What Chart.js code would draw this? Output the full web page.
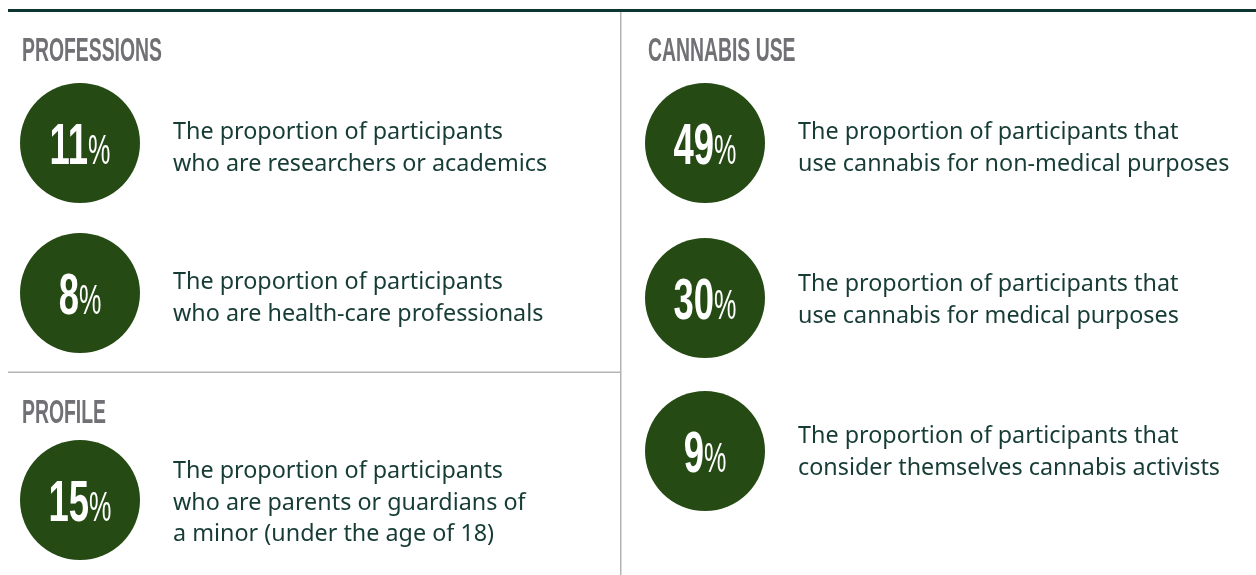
<!DOCTYPE html>
<html><head><meta charset="utf-8">
<script src="https://cdn.jsdelivr.net/npm/chart.js@4/dist/chart.umd.min.js"></script>
<style>html,body{margin:0;padding:0;background:#fff;overflow:hidden}canvas{display:block}</style>
</head><body>
<canvas id="c" width="1256" height="575"></canvas>
<script>
// ---- data ----
const sections = ["PROFESSIONS", "PROFILE", "CANNABIS USE"];
const values = [11, 8, 15, 49, 30, 9];
const descriptions = [
  ["The proportion of participants", "who are researchers or academics"],
  ["The proportion of participants", "who are health-care professionals"],
  ["The proportion of participants", "who are parents or guardians of", "a minor (under the age of 18)"],
  ["The proportion of participants that", "use cannabis for non-medical purposes"],
  ["The proportion of participants that", "use cannabis for medical purposes"],
  ["The proportion of participants that", "consider themselves cannabis activists"]
];

// ---- layout (positions/styles, not data) ----
const COL_X = [80, 705];
const TEXT_X = [173, 798];
const itemCol = [0, 0, 0, 1, 1, 1];
const ITEM_Y = [143, 293, 500, 143, 298, 451];
const TEXT_DY = [-4, -4, -22, -4, -7, -8];
const LINE_H = 31.5;
const HEAD_POS = [{x: 22, y: 61}, {x: 22, y: 423}, {x: 648, y: 61}];
const GREEN = '#254a14';
const TEXT_C = '#163c35';
const HEAD_C = '#707075';

const points = values.map((v, i) => ({x: COL_X[itemCol[i]], y: ITEM_Y[i], v: v, i: i}));

const infoPlugin = {
  id: 'info',
  beforeDatasetsDraw(chart) {
    const ctx = chart.ctx, xs = chart.scales.x, ys = chart.scales.y;
    ctx.save();
    // top rule
    ctx.fillStyle = '#0e3530';
    ctx.fillRect(xs.getPixelForValue(8), ys.getPixelForValue(9), xs.getPixelForValue(1256) - xs.getPixelForValue(8), 3);
    // dividers
    ctx.fillStyle = '#b4b4b4';
    ctx.fillRect(xs.getPixelForValue(620), ys.getPixelForValue(12), 1.5, ys.getPixelForValue(575) - ys.getPixelForValue(12));
    ctx.fillRect(xs.getPixelForValue(8), ys.getPixelForValue(371.5), xs.getPixelForValue(620) - xs.getPixelForValue(8), 1.5);
    // headings
    ctx.fillStyle = HEAD_C;
    ctx.textBaseline = 'alphabetic';
    ctx.textAlign = 'left';
    ctx.font = 'bold 34px "Liberation Sans", Arial, sans-serif';
    const hs = 0.57;
    sections.forEach((s, k) => {
      ctx.save();
      ctx.translate(xs.getPixelForValue(HEAD_POS[k].x), ys.getPixelForValue(HEAD_POS[k].y));
      ctx.scale(hs, 1);
      ctx.fillText(s, 0, 0);
      ctx.restore();
    });
    ctx.restore();
  },
  afterDatasetsDraw(chart) {
    const ctx = chart.ctx, xs = chart.scales.x, ys = chart.scales.y;
    ctx.save();
    ctx.textBaseline = 'alphabetic';
    ctx.textAlign = 'left';
    // numbers in circles
    const ns = 0.64, ps = 0.6;
    points.forEach(p => {
      const cx = xs.getPixelForValue(p.x), cy = ys.getPixelForValue(p.y);
      const num = String(p.v);
      ctx.font = 'bold 57px "Liberation Sans", Arial, sans-serif';
      const wn = ctx.measureText(num).width * ns;
      ctx.font = '42px "Liberation Sans", Arial, sans-serif';
      const wp = ctx.measureText('%').width * ps;
      const gap = 0;
      const x0 = cx - (wn + gap + wp) / 2;
      const base = cy + 21;
      ctx.fillStyle = '#ffffff';
      ctx.save();
      ctx.translate(x0, base); ctx.scale(ns, 1);
      ctx.font = 'bold 57px "Liberation Sans", Arial, sans-serif';
      ctx.fillText(num, 0, 0);
      ctx.restore();
      ctx.save();
      ctx.translate(x0 + wn + gap, base); ctx.scale(ps, 1);
      ctx.font = '42px "Liberation Sans", Arial, sans-serif';
      ctx.fillText('%', 0, 0);
      ctx.restore();
    });
    // descriptions
    ctx.font = '24px "Noto Sans", Lato, sans-serif';
    const ref = ctx.measureText('The proportion of participants').width;
    const ts = 330 / ref;
    ctx.fillStyle = TEXT_C;
    descriptions.forEach((lines, i) => {
      const tx = xs.getPixelForValue(TEXT_X[itemCol[i]]);
      lines.forEach((ln, j) => {
        const ty = ys.getPixelForValue(ITEM_Y[i] + TEXT_DY[i] + j * LINE_H);
        ctx.save();
        ctx.translate(tx, ty); ctx.scale(ts, 1);
        ctx.fillText(ln, 0, 0);
        ctx.restore();
      });
    });
    ctx.restore();
  }
};

new Chart(document.getElementById('c'), {
  type: 'scatter',
  data: {
    datasets: [{
      data: points,
      backgroundColor: GREEN,
      borderWidth: 0,
      pointRadius: 60,
      pointHoverRadius: 60,
      clip: false
    }]
  },
  options: {
    responsive: false,
    animation: false,
    events: [],
    layout: {padding: 0, autoPadding: false},
    plugins: {legend: {display: false}, tooltip: {enabled: false}},
    scales: {
      x: {type: 'linear', min: 0, max: 1256, display: false},
      y: {type: 'linear', min: 0, max: 575, reverse: true, display: false}
    }
  },
  plugins: [infoPlugin]
});
</script>
</body></html>
